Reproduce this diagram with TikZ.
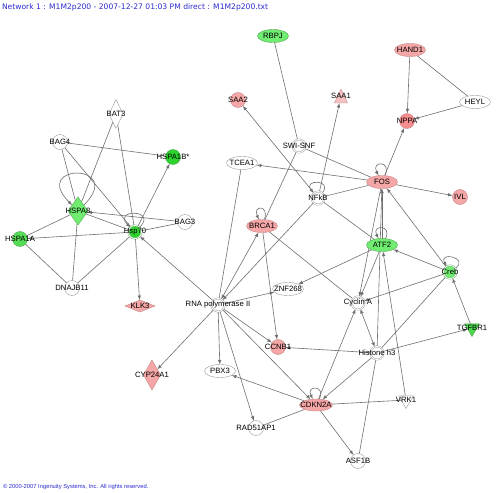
\documentclass[tikz,border=0pt]{standalone}
\usepackage{fontspec}
\setmainfont{Liberation Sans}
\newfontfamily\notefont{DejaVu Sans}
\usetikzlibrary{arrows, backgrounds, shapes}

\definecolor{edge gray}{HTML}{707070}
\definecolor{node border}{HTML}{9A9A9A}
\definecolor{pink gene}{HTML}{F5A6A6}
\definecolor{pink border}{HTML}{C88888}
\definecolor{green gene}{HTML}{70EC70}
\definecolor{deep green}{HTML}{2CD42C}
\definecolor{green border}{HTML}{50A850}
\definecolor{title blue}{HTML}{2B2BD0}

% label wider than its symbol, kept centred on it
\newcommand{\gname}[1]{\makebox[0pt]{#1}}

\begin{document}
\begin{tikzpicture}[x=1pt,y=-1pt,font=\fontsize{7.7}{9}\selectfont]
\tikzset{every node/.style={inner sep=0pt, outer sep=0pt}}

\tikzstyle{circ}=[circle,draw=node border,fill=white,minimum size=15pt]
\tikzstyle{complex}=[circle,draw=node border,fill=white,double=white,double distance=0.9pt,minimum size=13pt]
\tikzstyle{oval}=[ellipse,draw=node border,fill=white,minimum width=31pt,minimum height=13pt]
\tikzstyle{rhomb}=[diamond,draw=node border,fill=white,minimum width=14pt,minimum height=29pt]
\tikzstyle{down tri}=[regular polygon,regular polygon sides=3,shape border rotate=180,draw=node border,fill=white,minimum size=17pt]
\tikzstyle{trap}=[trapezium,trapezium stretches=true,trapezium left angle=80,trapezium right angle=80,draw=node border,fill=white,minimum width=13pt,minimum height=14pt]
\tikzstyle{up gene}=[fill=pink gene,draw=pink border]
\tikzstyle{down gene}=[fill=green gene,draw=green border]
\tikzstyle{line}=[draw=edge gray,semithick]
\tikzstyle{post}=[->,draw=edge gray,fill=edge gray,semithick,>=latex]
\tikzstyle{both}=[<->,draw=edge gray,fill=edge gray,semithick,>=latex]

\useasboundingbox (0,0) rectangle (500,492);

\node[anchor=west,text=title blue,font=\notefont\fontsize{7.6}{9}\selectfont] (title) at (2,7) {Network 1 : M1M2p200 - 2007-12-27 01:03 PM direct : M1M2p200.txt};
\node[anchor=west,text=title blue,font=\fontsize{5.8}{7}\selectfont] (copyright) at (3,487) {\textcopyright\ 2000-2007 Ingenuity Systems, Inc. All rights reserved.};

% chaperone cluster
\node[rhomb] (bat3) at (116,114) {\gname{BAT3}};
\node[circ] (bag4) at (60,142) {\gname{BAG4}};
\node[circ,down gene,fill=deep green] (hspa1b) at (173,157) {\gname{HSPA1B*}};
\node[rhomb,down gene,minimum width=20pt,minimum height=28pt] (hspa8) at (78,211) {\gname{HSPA8}};
\node[complex,down gene,fill=deep green] (hsp70) at (135,232) {\gname{Hsp70}};
\node[circ] (bag3) at (185,222) {\gname{BAG3}};
\node[circ,down gene,fill=deep green!80!white] (hspa1a) at (20,239) {\gname{HSPA1A}};
\node[circ] (dnajb11) at (72,288) {\gname{DNAJB11}};
\node[rhomb,up gene,minimum width=30pt,minimum height=12pt] (klk3) at (140,306) {\gname{KLK3}};

% transcription
\node[complex] (rna pol) at (218,305) {\gname{RNA polymerase II}};
\node[rhomb,up gene,minimum width=17pt,minimum height=30pt] (cyp24a1) at (152,375) {\gname{CYP24A1}};
\node[oval] (pbx3) at (220,371) {\gname{PBX3}};
\node[oval] (znf268) at (288,289) {\gname{ZNF268}};
\node[circ,up gene] (ccnb1) at (278,347) {\gname{CCNB1}};
\node[oval,up gene,minimum width=33pt,minimum height=12pt] (cdkn2a) at (316,405) {\gname{CDKN2A}};
\node[circ] (rad51ap1) at (256,428) {\gname{RAD51AP1}};
\node[circ] (asf1b) at (358,461) {\gname{ASF1B}};
\node[down tri] (vrk1) at (406,400) {\gname{VRK1}};
\node[complex] (histone h3) at (377,353) {\gname{Histone h3}};
\node[complex] (cyclin a) at (358,303) {\gname{Cyclin A}};
\node[oval,down gene] (atf2) at (382,245) {\gname{ATF2}};
\node[complex,down gene] (creb) at (450,272) {\gname{Creb}};
\node[down tri,down gene,fill=deep green!85!white] (tgfbr1) at (472,328) {\gname{TGFBR1}};

% upper right
\node[oval,up gene] (fos) at (382,182) {\gname{FOS}};
\node[circ,up gene] (ivl) at (460,197) {\gname{IVL}};
\node[circ,up gene,fill=pink gene!85!red] (nppa) at (407,121) {\gname{NPPA}};
\node[oval] (heyl) at (475,102) {\gname{HEYL}};
\node[oval,up gene] (hand1) at (410,50) {\gname{HAND1}};
\node[trap,up gene,fill=pink gene!70!white] (saa1) at (341,96) {\gname{SAA1}};
\node[circ,up gene] (saa2) at (238,100) {\gname{SAA2}};
\node[oval,down gene] (rbpj) at (273,36) {\gname{RBPJ}};
\node[complex] (swi snf) at (299,146) {\gname{SWI-SNF}};
\node[oval] (tcea1) at (242,163) {\gname{TCEA1}};
\node[complex] (nfkb) at (318,198) {\gname{NFkB}};
\node[oval,up gene] (brca1) at (262,226) {\gname{BRCA1}};

\begin{scope}[on background layer]
\fill[white] (0,0) rectangle (500,492);
% chaperone cluster
\path[line] (bat3) edge (hspa8);
\path[line] (bat3) edge (hsp70);
\path[line] (hspa1b) edge (bag4);
\path[line] (bag4) edge (hspa8);
\path[line] (bag4) edge (hsp70);
\path[post] (hsp70) edge (hspa1b);
\path[post] (bag3) edge (hspa8);
\path[line] (hsp70) edge (hspa8);
\path[line] (bag3) edge (hsp70);
\path[line] (hspa1a) edge (hspa8);
\path[post] (hsp70) edge (hspa1a);
\path[line] (hspa1a) edge (dnajb11);
\path[line] (hspa8) edge (dnajb11);
\path[line] (hsp70) edge (dnajb11);
\path[post] (hsp70) edge (klk3);
\path[post] (hspa8) edge[out=45,in=135,min distance=60pt] (hspa8);
\path[post] (hsp70) edge[out=45,in=135,min distance=26pt] (hsp70);

% rna polymerase II
\path[post] (rna pol) edge (hsp70);
\path[post] (rna pol) edge (cyp24a1);
\path[post] (rna pol) edge (pbx3);
\path[post] (rna pol) edge (rad51ap1);
\path[post] (rna pol) edge (ccnb1);
\path[post] (rna pol) edge (cdkn2a);
\path[post] (rna pol) edge (znf268);
\path[both] (rna pol) edge (brca1);
\path[post] (nfkb) edge (rna pol);
\path[line] (tcea1) edge (rna pol);

% nfkb, swi-snf, brca1
\path[post] (fos) edge (tcea1);
\path[line] (swi snf) edge (brca1);
\path[line] (swi snf) edge (fos);
\path[line] (rbpj) edge (swi snf);
\path[post] (nfkb) edge (saa2);
\path[post] (nfkb) edge (saa1);
\path[line] (nfkb) edge (fos);
\path[line] (nfkb) edge (atf2);
\path[post] (nfkb) edge[out=50,in=130,min distance=18pt] (nfkb);
\path[post] (brca1) edge[out=70,in=115,min distance=16pt] (brca1);
\path[post] (brca1) edge (ccnb1);
\path[line] (brca1) edge (cyclin a);

% fos
\path[post] (fos) edge (nppa);
\path[post] (fos) edge (ivl);
\path[post] (fos) edge[out=65,in=118,min distance=17pt] (fos);
\path[post] (hand1) edge (nppa);
\path[line] (hand1) edge (heyl);
\path[post] (heyl) edge (nppa);
\path[post] (atf2) edge (fos);
\path[post] (creb) edge (fos);
\path[post] (fos) edge (cyclin a);
\path[post] (histone h3) edge (fos);

% atf2, creb
\path[post] (atf2) edge (cyclin a);
\path[post] (atf2) edge (znf268);
\path[post] (atf2) edge[out=62,in=118,min distance=16pt] (atf2);
\path[post] (creb) edge (atf2);
\path[post] (vrk1) edge (atf2);
\path[post] (creb) edge (cyclin a);
\path[line] (creb) edge (histone h3);
\path[post] (tgfbr1) edge (creb);
\path[post] (creb) edge[out=35,in=120,min distance=18pt] (creb);

% histone h3, cdkn2a
\path[both] (cyclin a) edge (histone h3);
\path[post] (cdkn2a) edge (cyclin a);
\path[post] (histone h3) edge (ccnb1);
\path[post] (histone h3) edge (tgfbr1);
\path[post] (histone h3) edge (cdkn2a);
\path[line] (histone h3) edge (asf1b);
\path[post] (cdkn2a) edge (pbx3);
\path[line] (cdkn2a) edge (rad51ap1);
\path[post] (cdkn2a) edge[out=62,in=118,min distance=16pt] (cdkn2a);
\path[line] (cdkn2a) edge (vrk1);
\path[post] (cdkn2a) edge (asf1b);
\end{scope}

\end{tikzpicture}
\end{document}
